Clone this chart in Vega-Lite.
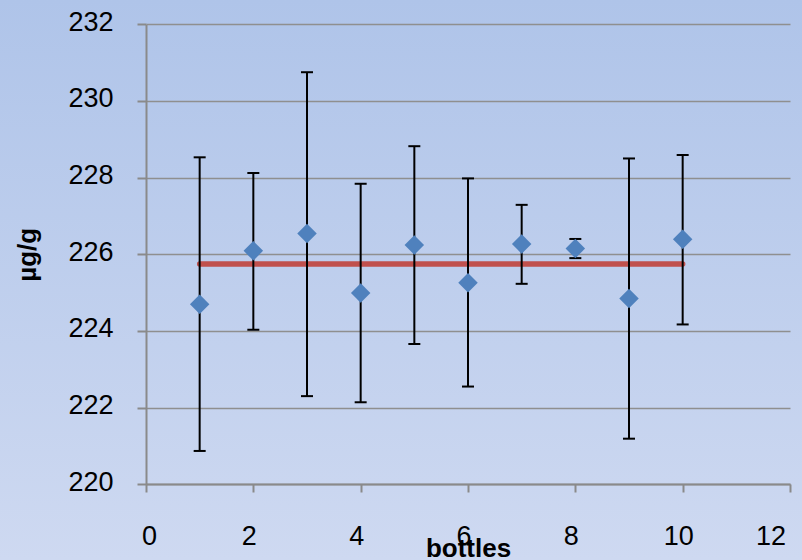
{
  "$schema": "https://vega.github.io/schema/vega-lite/v6.json",
  "width": 802,
  "height": 560,
  "padding": 0,
  "autosize": {"type": "none"},
  "background": "#c0d0ee",
  "view": {
    "stroke": null,
    "fill": {
      "gradient": "linear",
      "x1": 0, "y1": 0, "x2": 0, "y2": 1,
      "stops": [
        {"offset": 0, "color": "#afc4e9"},
        {"offset": 1, "color": "#ced9f1"}
      ]
    }
  },
  "config": {
    "font": "Liberation Sans",
    "axis": {
      "domainColor": "#8a8a8a",
      "domainWidth": 2,
      "tickColor": "#8a8a8a",
      "tickWidth": 2,
      "gridColor": "#8f8f8f",
      "gridWidth": 1.5,
      "gridOpacity": 1,
      "labelColor": "#000000",
      "labelFont": "Liberation Sans",
      "labelFontSize": 27,
      "titleFont": "Liberation Sans",
      "titleFontSize": 26,
      "titleFontWeight": "bold",
      "titleColor": "#000000"
    },
    "axisX": {
      "offset": -76,
      "grid": false,
      "tickSize": 8,
      "labelPadding": 31,
      "labelOffset": -4.5,
      "titleY": 72,
      "titleBaseline": "alphabetic"
    },
    "axisY": {
      "offset": -146,
      "grid": false,
      "tickSize": 9,
      "labelPadding": 24,
      "labelOffset": -2,
      "titleX": -119,
      "titleAlign": "center",
      "titleBaseline": "middle"
    }
  },
  "datasets": {
    "bottles": [
      {"bottle": 1, "value": 224.70, "lo": 220.87, "hi": 228.53},
      {"bottle": 2, "value": 226.09, "lo": 224.03, "hi": 228.12},
      {"bottle": 3, "value": 226.54, "lo": 222.30, "hi": 230.75},
      {"bottle": 4, "value": 224.99, "lo": 222.14, "hi": 227.84},
      {"bottle": 5, "value": 226.24, "lo": 223.66, "hi": 228.82},
      {"bottle": 6, "value": 225.26, "lo": 222.55, "hi": 227.98},
      {"bottle": 7, "value": 226.27, "lo": 225.23, "hi": 227.29},
      {"bottle": 8, "value": 226.15, "lo": 225.90, "hi": 226.40},
      {"bottle": 9, "value": 224.85, "lo": 221.19, "hi": 228.50},
      {"bottle": 10, "value": 226.39, "lo": 224.17, "hi": 228.59}
    ],
    "mean": [
      {"bottle": 1, "value": 225.75},
      {"bottle": 10, "value": 225.75}
    ]
  },
  "resolve": {"axis": {"y": "independent"}},
  "layer": [
    {
      "data": {"name": "mean"},
      "mark": {"type": "line", "color": "#c0504d", "strokeWidth": 5.5, "strokeCap": "round"},
      "encoding": {
        "x": {
          "field": "bottle", "type": "quantitative", "title": "bottles",
          "scale": {"domain": [0, 12], "range": [146, 790], "nice": false, "zero": false},
          "axis": {"values": [0, 2, 4, 6, 8, 10, 12], "format": "d"}
        },
        "y": {
          "field": "value", "type": "quantitative",
          "scale": {"domain": [220, 232], "range": [484.3, 24.3], "nice": false, "zero": false},
          "axis": {
            "orient": "left", "offset": 0, "grid": true, "labels": false, "ticks": false,
            "domain": false, "title": null, "values": [220, 222, 224, 226, 228, 230, 232]
          }
        }
      }
    },
    {
      "layer": [
        {
          "data": {"name": "bottles"},
          "mark": {"type": "rule", "color": "#000000", "strokeWidth": 2},
          "encoding": {
            "x": {"field": "bottle", "type": "quantitative", "title": "bottles"},
            "y": {
              "field": "lo", "type": "quantitative", "title": "µg/g",
              "axis": {"orient": "left", "values": [220, 222, 224, 226, 228, 230, 232], "format": "d"}
            },
            "y2": {"field": "hi"}
          }
        },
        {
          "data": {"name": "bottles"},
          "mark": {"type": "tick", "orient": "horizontal", "color": "#000000", "size": 12, "thickness": 2, "opacity": 1},
          "encoding": {
            "x": {"field": "bottle", "type": "quantitative", "title": "bottles"},
            "y": {"field": "lo", "type": "quantitative", "title": "µg/g"}
          }
        },
        {
          "data": {"name": "bottles"},
          "mark": {"type": "tick", "orient": "horizontal", "color": "#000000", "size": 12, "thickness": 2, "opacity": 1},
          "encoding": {
            "x": {"field": "bottle", "type": "quantitative", "title": "bottles"},
            "y": {"field": "hi", "type": "quantitative", "title": "µg/g"}
          }
        },
        {
          "data": {"name": "bottles"},
          "mark": {"type": "point", "shape": "diamond", "filled": true, "color": "#4f81bd", "size": 380, "opacity": 1},
          "encoding": {
            "x": {"field": "bottle", "type": "quantitative", "title": "bottles"},
            "y": {"field": "value", "type": "quantitative", "title": "µg/g"}
          }
        }
      ]
    }
  ]
}
